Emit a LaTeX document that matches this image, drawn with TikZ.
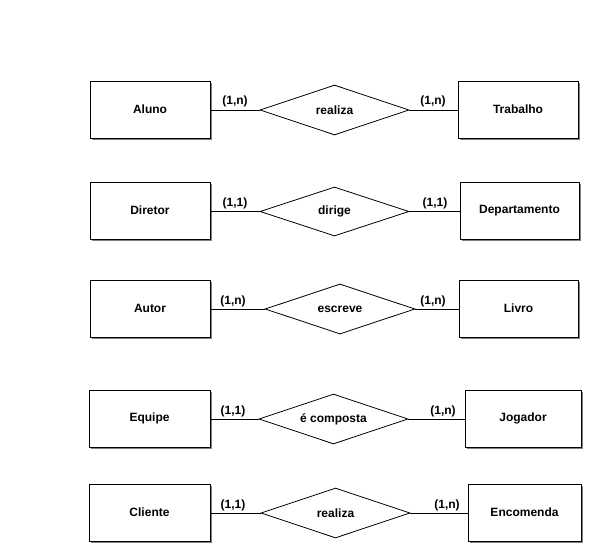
\documentclass[tikz,border=0pt]{standalone}
\usepackage{fontspec}
\setmainfont{Liberation Sans}
\usetikzlibrary{shapes.geometric,shadows}
\begin{document}
\begin{tikzpicture}[x=1pt,y=-1pt,
  ent/.style={draw,line width=0.9pt,fill=white,rectangle,inner sep=0pt,font=\bfseries\fontsize{12}{14}\selectfont,
    drop shadow={shadow xshift=1.8pt,shadow yshift=-1.8pt,fill=black!50,opacity=1}},
  rel/.style={draw,line width=0.8pt,diamond,inner sep=0pt,font=\bfseries\fontsize{12}{14}\selectfont},
  card/.style={font=\bfseries\fontsize{12}{14}\selectfont,inner sep=0pt},
  lnk/.style={line width=0.8pt}]
\useasboundingbox (0,0) rectangle (592,546);
\newcommand{\ent}[6]{\node[ent,minimum width=#3-#2,minimum height=#5-#4] (#1) at ({(#2+#3)/2},{(#4+#5)/2}) {#6};}
\newcommand{\rel}[6]{\node[rel,aspect=3,minimum width=#3-#2,minimum height=#5-#4] (#1) at ({(#2+#3)/2},{(#4+#5)/2}) {#6};}
% Row 1
\ent{aluno}{90}{210}{81}{138}{Aluno}
\rel{r1}{260}{409}{85}{135}{realiza}
\ent{trab}{458}{578}{81}{138}{Trabalho}
\draw[lnk] (aluno.east |- r1.west) -- (r1.west);
\draw[lnk] (r1.east) -- (trab.west |- r1.east);
\node[card] (c1a) at (235,101) {(1,n)};
\node[card] (c1b) at (433,101) {(1,n)};
% Row 2
\ent{diretor}{90}{210}{182}{239}{Diretor}
\rel{r2}{260}{409}{187}{236}{dirige}
\ent{depto}{460}{579}{182}{239}{Departamento}
\draw[lnk] (diretor.east |- r2.west) -- (r2.west);
\draw[lnk] (r2.east) -- (depto.west |- r2.east);
\node[card] (c2a) at (235,203) {(1,1)};
\node[card] (c2b) at (435,203) {(1,1)};
% Row 3
\ent{autor}{90}{210}{280}{337}{Autor}
\rel{r3}{265}{415}{284}{334}{escreve}
\ent{livro}{459}{578}{280}{337}{Livro}
\draw[lnk] (autor.east |- r3.west) -- (r3.west);
\draw[lnk] (r3.east) -- (livro.west |- r3.east);
\node[card] (c3a) at (233,301) {(1,n)};
\node[card] (c3b) at (433,301) {(1,n)};
% Row 4
\ent{equipe}{89}{210}{390}{447}{Equipe}
\rel{r4}{259}{408}{394}{444}{é composta}
\ent{jog}{465}{581}{390}{447}{Jogador}
\draw[lnk] (equipe.east |- r4.west) -- (r4.west);
\draw[lnk] (r4.east) -- (jog.west |- r4.east);
\node[card] (c4a) at (233,411) {(1,1)};
\node[card] (c4b) at (443,411) {(1,n)};
% Row 5
\ent{cliente}{89}{210}{484}{541}{Cliente}
\rel{r5}{261}{410}{488}{538}{realiza}
\ent{encom}{468}{581}{484}{541}{Encomenda}
\draw[lnk] (cliente.east |- r5.west) -- (r5.west);
\draw[lnk] (r5.east) -- (encom.west |- r5.east);
\node[card] (c5a) at (233,505) {(1,1)};
\node[card] (c5b) at (447,505) {(1,n)};
\end{tikzpicture}
\end{document}
